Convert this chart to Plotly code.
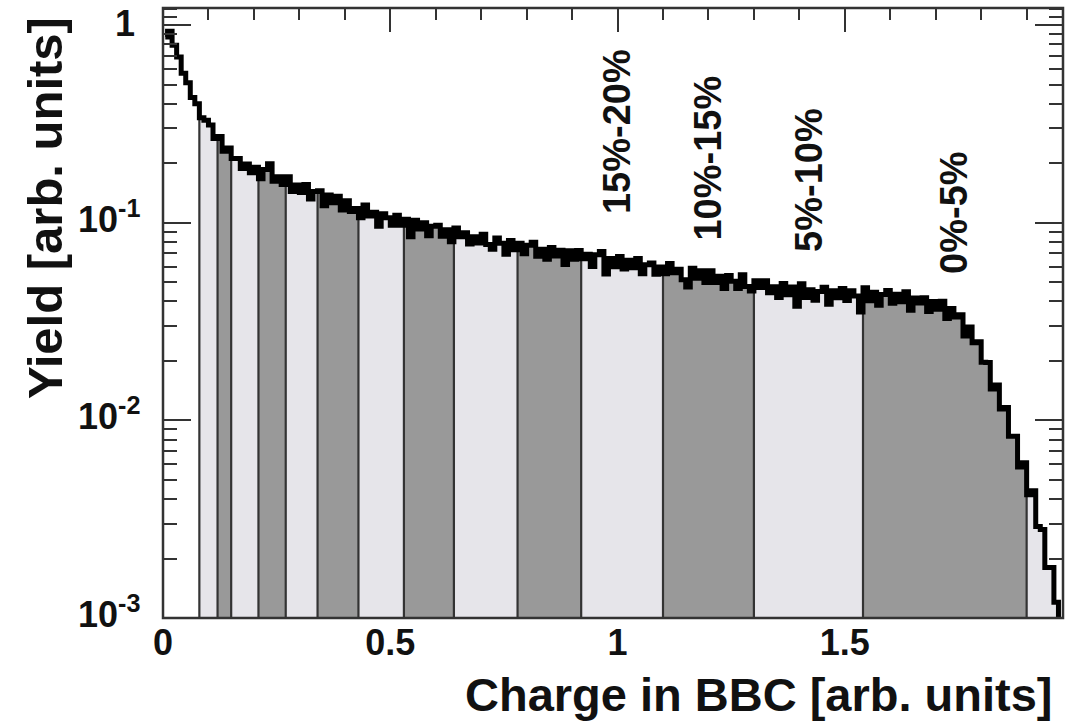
import numpy as np
import plotly.graph_objects as go

# ---- data ----
bin_width = 0.01
yields = [
    0.87, 0.93, 0.79, 0.69, 0.57, 0.51, 0.43, 0.40, 0.34, 0.33,
    0.312, 0.267, 0.273, 0.230, 0.239, 0.211, 0.211, 0.188, 0.198, 0.179,
    0.191, 0.167, 0.186, 0.199, 0.162, 0.171, 0.156, 0.171, 0.144, 0.155,
    0.142, 0.156, 0.132, 0.144, 0.145, 0.122, 0.138, 0.126, 0.136, 0.116,
    0.129, 0.114, 0.118, 0.106, 0.123, 0.108, 0.113, 0.096, 0.111, 0.106,
    0.097, 0.109, 0.097, 0.104, 0.085, 0.103, 0.093, 0.100, 0.086, 0.096,
    0.097, 0.0855, 0.092, 0.080, 0.094, 0.085, 0.089, 0.078, 0.085, 0.079,
    0.0875, 0.0776, 0.0735, 0.0837, 0.0788, 0.0693, 0.0813, 0.073, 0.0788, 0.0696,
    0.077, 0.0796, 0.0677, 0.0734, 0.0653, 0.0749, 0.0679, 0.0725, 0.0614, 0.0721,
    0.0653, 0.0724, 0.0657, 0.0693, 0.0601, 0.0689, 0.0715, 0.055, 0.0659, 0.0599,
    0.0674, 0.0583, 0.0645, 0.0592, 0.0659, 0.0552, 0.0612, 0.0625, 0.0549, 0.0597,
    0.0551, 0.0621, 0.0559, 0.0582, 0.0515, 0.0473, 0.0589, 0.0524, 0.0572, 0.0498,
    0.0572, 0.0499, 0.0536, 0.0464, 0.0541, 0.0505, 0.0465, 0.0545, 0.0475, 0.0451,
    0.0509, 0.047, 0.0508, 0.0442, 0.0474, 0.0419, 0.0492, 0.0432, 0.0473, 0.0378,
    0.0491, 0.0418, 0.0458, 0.0405, 0.0449, 0.0471, 0.0387, 0.0452, 0.0417, 0.0464,
    0.0404, 0.0452, 0.0426, 0.0353, 0.0469, 0.0403, 0.0445, 0.0382, 0.0433, 0.0454,
    0.0391, 0.0435, 0.0398, 0.0447, 0.0361, 0.0416, 0.0392, 0.0417, 0.0355, 0.0399,
    0.0365, 0.040, 0.0328, 0.0368, 0.0333, 0.0342, 0.0267, 0.0297, 0.0247, 0.025,
    0.0197, 0.0196, 0.0144, 0.0151, 0.0114, 0.0116, 0.0083, 0.0083, 0.0058, 0.0061,
    0.0042, 0.0044, 0.0029, 0.0028, 0.0018, 0.0018, 0.0012, 0.0009,
]
# centrality class boundaries on the charge axis
boundaries = [0.08, 0.12, 0.15, 0.21, 0.27, 0.34, 0.43, 0.53, 0.64,
              0.78, 0.92, 1.10, 1.30, 1.54, 1.90]
class_labels = ["15%-20%", "10%-15%", "5%-10%", "0%-5%"]
label_charge = [0.999, 1.200, 1.421, 1.740]
x_ticks = [0, 0.5, 1, 1.5]
x_ticktext = ["0", "0.5", "1", "1.5"]
y_ticks = [1e-3, 1e-2, 1e-1, 1]
y_ticktext = ["10<sup>-3</sup>", "10<sup>-2</sup>", "10<sup>-1</sup>", "1"]

# ---- styling ----
LIGHT = "#e6e5ea"
DARK = "#999999"
EDGE = "#333333"
FONT = "Liberation Sans"

charge = 0.005 + bin_width * np.arange(len(yields))
yields_arr = np.array(yields)

# colour of each bin by the centrality class it falls into
colors = []
for c in charge:
    k = int(np.searchsorted(boundaries, c))
    if k == 0:
        colors.append("rgba(0,0,0,0)")
    else:
        colors.append(LIGHT if k % 2 == 1 else DARK)

fig = go.Figure()
fig.add_trace(go.Bar(x=charge, y=yields_arr, width=bin_width,
                     marker=dict(color=colors, line=dict(width=0)),
                     showlegend=False, hoverinfo="skip"))

# boundary lines from the bottom to the histogram
bx, by = [], []
for b in boundaries:
    idx = int(np.clip(np.searchsorted(charge, b), 0, len(charge) - 1))
    top = min(yields_arr[idx], yields_arr[max(idx - 1, 0)])
    bx += [b, b, None]
    by += [y_ticks[0], top, None]
fig.add_trace(go.Scatter(x=bx, y=by, mode="lines",
                         line=dict(color=EDGE, width=2.2),
                         showlegend=False, hoverinfo="skip"))

fig.add_trace(go.Scatter(x=charge, y=yields_arr, mode="lines",
                         line=dict(color="black", width=5, shape="hvh"),
                         showlegend=False, hoverinfo="skip"))

label_y = [-0.541, -0.673, -0.784, -0.946]
for t, xc, yc in zip(class_labels, label_charge, label_y):
    fig.add_annotation(x=xc, y=yc, text=t, textangle=-90, showarrow=False,
                       xanchor="center", yanchor="middle",
                       font=dict(family=FONT, size=38, color="#111", weight="bold"))

# y tick labels placed as text next to the axis
for v, t in zip(y_ticks, y_ticktext):
    fig.add_annotation(xref="paper", x=0, y=np.log10(v), text=t, showarrow=False,
                       xanchor="right", yanchor="middle",
                       xshift=-26 if v == 1 else -21, yshift=2 if v == 1 else 6,
                       font=dict(family=FONT, size=36, color="#111", weight="bold"))

fig.add_annotation(xref="paper", yref="paper", x=0.991, y=-0.126,
                   text="Charge in BBC [arb. units]", showarrow=False,
                   xanchor="right", yanchor="middle",
                   font=dict(family=FONT, size=47, color="#111", weight="bold"))
fig.add_annotation(xref="paper", yref="paper", x=-0.131, y=0.9885,
                   text="Yield [arb. units]", textangle=-90, showarrow=False,
                   xanchor="center", yanchor="top",
                   font=dict(family=FONT, size=49, color="#111", weight="bold"))

minor_y = [m * 10.0 ** e for e in (-3, -2, -1) for m in range(2, 10)] + [1.1, 1.2]

fig.update_xaxes(range=[0, 1.98], tickmode="array", tickvals=x_ticks,
                 ticktext=x_ticktext, ticks="inside", ticklen=24, tickwidth=2,
                 tickcolor="#333", mirror="allticks", showline=False,
                 showgrid=False, zeroline=False, layer="below traces",
                 tickfont=dict(family=FONT, size=36, color="#111", weight="bold"),
                 minor=dict(tickmode="linear", tick0=0, dtick=0.1, ticks="inside",
                            ticklen=12, tickwidth=2, tickcolor="#333", showgrid=False))
fig.update_yaxes(type="log", range=[-3, np.log10(1.22)], tickmode="array",
                 tickvals=y_ticks, showticklabels=False, ticks="inside",
                 ticklen=28, tickwidth=2, tickcolor="#333", mirror="allticks",
                 showline=False, showgrid=False, zeroline=False,
                 minor=dict(tickmode="array", tickvals=minor_y, ticks="inside",
                            ticklen=14, tickwidth=2, tickcolor="#333", showgrid=False))

fig.add_shape(type="rect", xref="paper", yref="paper", x0=0, x1=1, y0=0, y1=1,
              line=dict(color="#333", width=2.5), layer="above")

fig.update_layout(width=1069, height=725, plot_bgcolor="white",
                  paper_bgcolor="white", bargap=0,
                  margin=dict(l=163, r=6, t=8, b=107))

fig.write_html("out.html", config={"displayModeBar": False},
               post_script="document.body.style.margin='0px';document.body.style.overflow='hidden';")
